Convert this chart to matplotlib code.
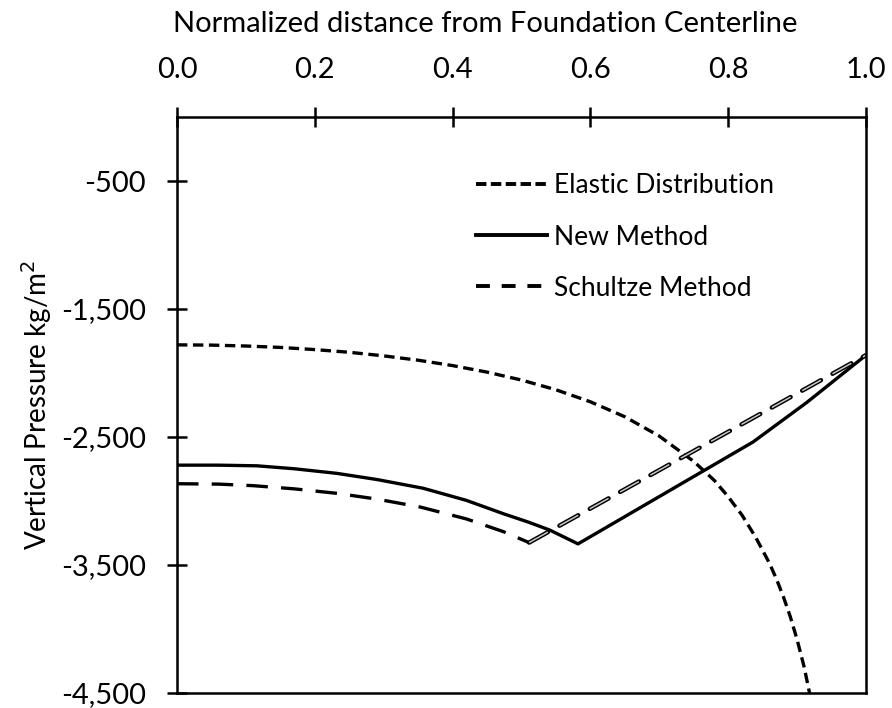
import numpy as np
import matplotlib
matplotlib.use("Agg")
import matplotlib.pyplot as plt
from matplotlib.lines import Line2D

# values
elastic_x = [0.0, 0.05, 0.1, 0.15, 0.2, 0.25, 0.3, 0.35, 0.4, 0.45, 0.5, 0.55,
             0.6, 0.65, 0.7, 0.75, 0.78, 0.8, 0.82, 0.84, 0.86, 0.87, 0.88,
             0.89, 0.9, 0.91, 0.918]
elastic_y = [-1780, -1782, -1789, -1800, -1817, -1838, -1866, -1900, -1942,
             -1993, -2055, -2131, -2225, -2342, -2493, -2691, -2840, -2967,
             -3110, -3285, -3488, -3610, -3747, -3903, -4084, -4293, -4500]

new_x = [0.0, 0.06, 0.116, 0.17, 0.232, 0.29, 0.357, 0.42, 0.474, 0.51,
         0.541, 0.582, 0.836, 0.914, 1.0]
new_y = [-2720, -2720, -2725, -2748, -2784, -2832, -2900, -2995, -3100,
         -3165, -3227, -3335, -2539, -2230, -1860]

schultze_x = [0.0, 0.06, 0.11, 0.17, 0.232, 0.29, 0.353, 0.42, 0.474, 0.511]
schultze_y = [-2865, -2868, -2880, -2905, -2940, -2985, -3047, -3140,
              -3240, -3325]
schultze_x2 = [0.511, 1.0]
schultze_y2 = [-3325, -1860]

xticks = [0.0, 0.2, 0.4, 0.6, 0.8, 1.0]
yticks = [-4500, -3500, -2500, -1500, -500]

plt.rcParams['font.family'] = ['Lato', 'DejaVu Sans']
plt.rcParams['lines.scale_dashes'] = False

fig = plt.figure(figsize=(8.92, 7.08), dpi=100)
ax = fig.add_axes([0.1984, 0.0212, 0.7725, 0.8135])

lw = 2.4
ax.plot(elastic_x, elastic_y, color='black', lw=lw, dashes=(7.5, 4.0))
ax.plot(new_x, new_y, color='black', lw=lw)
ax.plot(schultze_x, schultze_y, color='black', lw=lw, dashes=(15.5, 9.5))
# right branch of the Schultze line is drawn as hollow dashes
ax.plot(schultze_x2, schultze_y2, color='black', lw=3.2, dashes=(15.5, 9.5),
        dash_capstyle='round')
ax.plot(schultze_x2, schultze_y2, color='#c8c8c8', lw=1.1, dashes=(15.5, 9.5))

ax.set_xlim(0, 1)
ax.set_ylim(-4500, 0)
ax.xaxis.tick_top()
ax.xaxis.set_label_position('top')
ax.set_xticks(xticks)
ax.set_xticklabels(['%.1f' % v for v in xticks])
ax.set_yticks(yticks)
ax.set_yticklabels(['{:,}'.format(v) for v in yticks])

for s in ax.spines.values():
    s.set_linewidth(1.8)
ax.tick_params(axis='both', direction='inout', length=15, width=1.8,
               labelsize=21)
ax.tick_params(axis='x', pad=17)
ax.tick_params(axis='y', pad=15)

ax.set_xlabel('Normalized distance from Foundation Centerline', fontsize=21,
              labelpad=18)
ax.xaxis.label.set_x(0.448)
ax.set_ylabel('Vertical Pressure kg/m$^2$', fontsize=20, labelpad=5)

handles = [
    Line2D([], [], color='black', lw=2.8, dashes=(7.5, 3.2)),
    Line2D([], [], color='black', lw=2.8),
    Line2D([], [], color='black', lw=2.8, dashes=(10, 8.5)),
]
labels = ['Elastic Distribution', 'New Method', 'Schultze Method']
fig.legend(handles, labels, loc='upper left', bbox_to_anchor=(0.5336, 0.755),
           frameon=False, fontsize=19, handlelength=2.69, handletextpad=0.27,
           labelspacing=0.99, borderpad=0, borderaxespad=0)

fig.savefig('out.png', dpi=100)
